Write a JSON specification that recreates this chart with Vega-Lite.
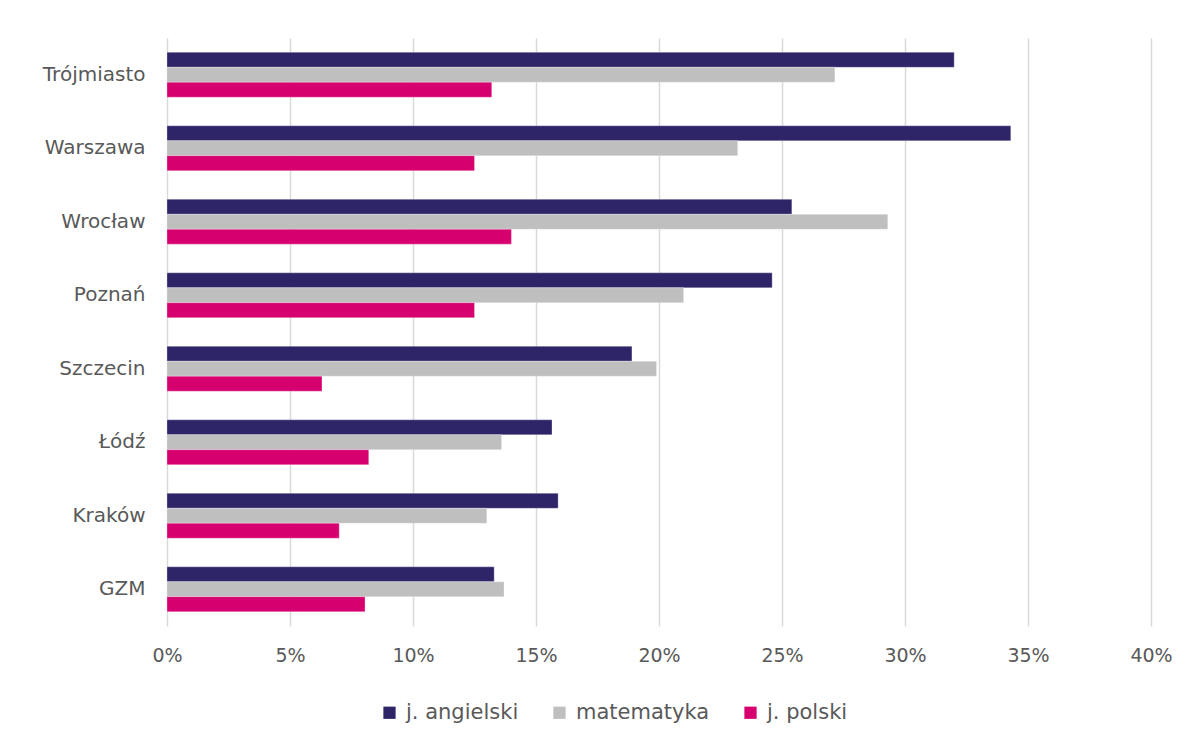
{
  "$schema": "https://vega.github.io/schema/vega-lite/v6.json",
  "width": 984,
  "height": 588,
  "autosize": {"type": "none"},
  "padding": {"left": 167, "top": 38, "right": 47, "bottom": 117},
  "background": "white",
  "config": {
    "view": {"stroke": null},
    "font": "DejaVu Sans",
    "axis": {"labelColor": "#595959", "labelFont": "DejaVu Sans"},
    "legend": {"labelColor": "#595959", "labelFont": "DejaVu Sans"}
  },
  "data": {
    "values": [
      {"city": "Trójmiasto", "subject": "j. angielski", "value": 0.320},
      {"city": "Trójmiasto", "subject": "matematyka", "value": 0.2715},
      {"city": "Trójmiasto", "subject": "j. polski", "value": 0.132},
      {"city": "Warszawa", "subject": "j. angielski", "value": 0.343},
      {"city": "Warszawa", "subject": "matematyka", "value": 0.232},
      {"city": "Warszawa", "subject": "j. polski", "value": 0.125},
      {"city": "Wrocław", "subject": "j. angielski", "value": 0.254},
      {"city": "Wrocław", "subject": "matematyka", "value": 0.293},
      {"city": "Wrocław", "subject": "j. polski", "value": 0.140},
      {"city": "Poznań", "subject": "j. angielski", "value": 0.246},
      {"city": "Poznań", "subject": "matematyka", "value": 0.210},
      {"city": "Poznań", "subject": "j. polski", "value": 0.125},
      {"city": "Szczecin", "subject": "j. angielski", "value": 0.189},
      {"city": "Szczecin", "subject": "matematyka", "value": 0.199},
      {"city": "Szczecin", "subject": "j. polski", "value": 0.063},
      {"city": "Łódź", "subject": "j. angielski", "value": 0.1565},
      {"city": "Łódź", "subject": "matematyka", "value": 0.136},
      {"city": "Łódź", "subject": "j. polski", "value": 0.082},
      {"city": "Kraków", "subject": "j. angielski", "value": 0.159},
      {"city": "Kraków", "subject": "matematyka", "value": 0.130},
      {"city": "Kraków", "subject": "j. polski", "value": 0.070},
      {"city": "GZM", "subject": "j. angielski", "value": 0.133},
      {"city": "GZM", "subject": "matematyka", "value": 0.137},
      {"city": "GZM", "subject": "j. polski", "value": 0.0805}
    ]
  },
  "mark": {"type": "bar", "stroke": "#ffffff", "strokeOpacity": 0.35, "strokeWidth": 0.8},
  "encoding": {
    "y": {
      "field": "city",
      "type": "nominal",
      "sort": ["Trójmiasto", "Warszawa", "Wrocław", "Poznań", "Szczecin", "Łódź", "Kraków", "GZM"],
      "scale": {"paddingInner": 0.39, "paddingOuter": 0.195},
      "axis": {
        "title": null,
        "ticks": false,
        "domain": false,
        "grid": false,
        "labelFontSize": 20,
        "labelPadding": 22
      }
    },
    "yOffset": {
      "field": "subject",
      "type": "nominal",
      "sort": ["j. angielski", "matematyka", "j. polski"],
      "scale": {"paddingInner": 0, "paddingOuter": 0}
    },
    "x": {
      "field": "value",
      "type": "quantitative",
      "scale": {"domain": [0, 0.4], "nice": false},
      "axis": {
        "title": null,
        "format": ".0%",
        "values": [0, 0.05, 0.1, 0.15, 0.2, 0.25, 0.3, 0.35, 0.4],
        "ticks": false,
        "domain": false,
        "labelFlush": false,
        "gridColor": "#d9d9d9",
        "gridWidth": 1.5,
        "labelFontSize": 19,
        "labelPadding": 20
      }
    },
    "color": {
      "field": "subject",
      "type": "nominal",
      "sort": ["j. angielski", "matematyka", "j. polski"],
      "scale": {
        "domain": ["j. angielski", "matematyka", "j. polski"],
        "range": ["#2e2569", "#bfbfbf", "#d6006f"]
      },
      "legend": {
        "title": null,
        "orient": "none",
        "legendX": 212,
        "legendY": 664,
        "direction": "horizontal",
        "symbolType": "square",
        "symbolSize": 150,
        "symbolStrokeWidth": 0,
        "labelFontSize": 21,
        "columnPadding": 30,
        "labelOffset": 6
      }
    }
  }
}
